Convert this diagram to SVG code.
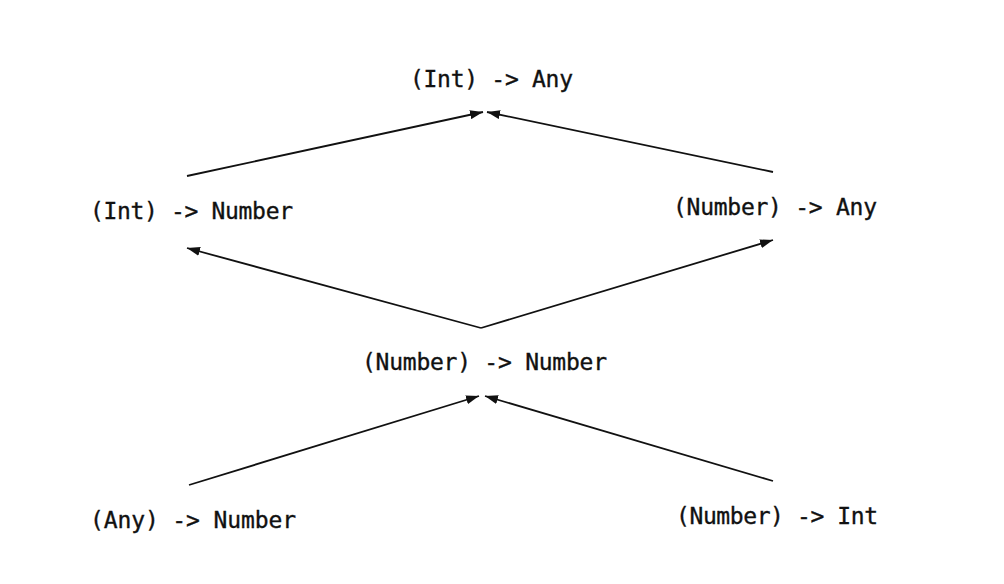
<svg xmlns="http://www.w3.org/2000/svg" width="1004" height="584" viewBox="0 0 1004 584">
<style>
.t{font-family:"DejaVu Sans Mono","Liberation Mono",monospace;font-size:23px;fill:#111;stroke:#111;stroke-width:0.35}
.e{stroke:#111;stroke-width:1.8;fill:none;marker-end:url(#ah)}
</style>
<defs>
<marker id="ah" viewBox="0 0 13 9" refX="13" refY="4.5" markerWidth="13" markerHeight="9" markerUnits="userSpaceOnUse" orient="auto">
<path d="M0,0 L13,4.5 L0,9 Z" fill="#111"/>
</marker>
</defs>
<rect width="1004" height="584" fill="#fff"/>
<g id="connectors">
<line class="e" x1="187" y1="176" x2="483" y2="112"/>
<line class="e" x1="773" y1="172" x2="487" y2="112"/>
<line class="e" x1="481" y1="328" x2="187" y2="248"/>
<line class="e" x1="481" y1="328" x2="773" y2="240"/>
<line class="e" x1="189" y1="485" x2="479" y2="396"/>
<line class="e" x1="773" y1="481" x2="485" y2="396"/>
</g>
<g id="n1"><text class="t" x="410" y="87" textLength="163">(Int) -&gt; Any</text></g>
<g id="n2"><text class="t" x="90" y="219" textLength="203">(Int) -&gt; Number</text></g>
<g id="n3"><text class="t" x="673" y="215" textLength="204">(Number) -&gt; Any</text></g>
<g id="n4"><text class="t" x="362" y="370" textLength="245">(Number) -&gt; Number</text></g>
<g id="n5"><text class="t" x="90" y="528" textLength="206">(Any) -&gt; Number</text></g>
<g id="n6"><text class="t" x="676" y="524" textLength="202">(Number) -&gt; Int</text></g>
</svg>
